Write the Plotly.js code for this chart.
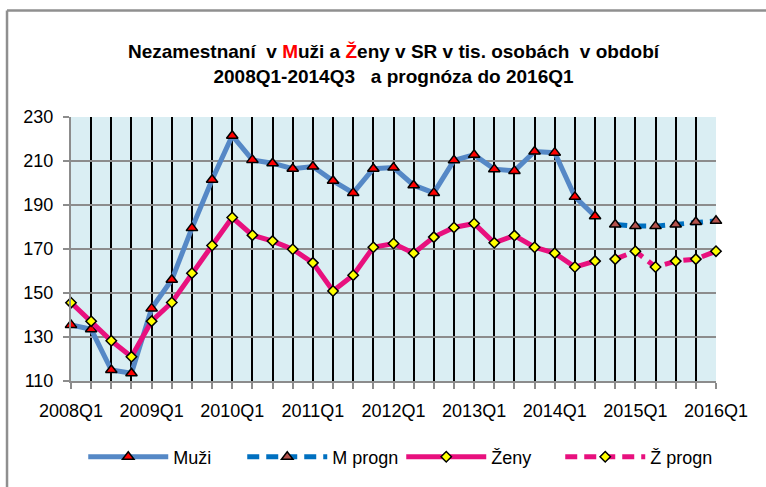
<!DOCTYPE html>
<html>
<head>
<meta charset="utf-8">
<script src="https://cdn.plot.ly/plotly-3.0.1.min.js"></script>
<style>
html,body{margin:0;padding:0;background:#fff;}
#chart{width:766px;height:487px;}
</style>
</head>
<body>
<div id="chart"></div>
<script>
var quarters = ["2008Q1","2008Q2","2008Q3","2008Q4","2009Q1","2009Q2","2009Q3","2009Q4",
  "2010Q1","2010Q2","2010Q3","2010Q4","2011Q1","2011Q2","2011Q3","2011Q4",
  "2012Q1","2012Q2","2012Q3","2012Q4","2013Q1","2013Q2","2013Q3","2013Q4",
  "2014Q1","2014Q2","2014Q3","2014Q4","2015Q1","2015Q2","2015Q3","2015Q4","2016Q1"];
var tickLabels = ["2008Q1","","","","2009Q1","","","","2010Q1","","","","2011Q1","","","",
  "2012Q1","","","","2013Q1","","","","2014Q1","","","","2015Q1","","","","2016Q1"];
var muziX = quarters.slice(0, 27);
var muzi = [135.5,133.5,115,113.5,143,156,179.5,201.5,221.5,210.5,209,206.5,207.5,201,195.5,206.5,
  207,199,195.5,210.3,212.8,206.3,205.5,214.3,213.8,193.7,184.9];
var prognX = quarters.slice(27);
var mProgn = [181.1,180.4,180.4,181.1,182.3,182.8];
var zeny = [145.6,137.2,128.3,121.0,137.2,145.7,159.0,171.6,184.3,176.3,173.6,169.9,163.7,150.9,158.1,170.8,
  172.5,168.1,175.4,179.8,181.6,172.8,176.1,170.8,168.1,161.8,164.5];
var zProgn = [165.4,169,161.8,164.5,165.4,169];
var yTicks = [110,130,150,170,190,210,230];

var FONT = '"Liberation Sans", Arial, sans-serif';

var traces = [
  {x: muziX, y: muzi, name: 'Muži', type: 'scatter', mode: 'lines+markers', cliponaxis: false,
   line: {color: '#5588C6', width: 5},
   marker: {symbol: 'triangle-up', size: 10, color: '#FF0000', line: {color: '#000', width: 1.5}}},
  {x: prognX, y: mProgn, name: 'M progn', type: 'scatter', mode: 'lines+markers', cliponaxis: false,
   line: {color: '#0070C0', width: 5, dash: '12px,7px'},
   marker: {symbol: 'triangle-up', size: 10, color: '#B5534D', line: {color: '#000', width: 1.5}}},
  {x: muziX, y: zeny, name: 'Ženy', type: 'scatter', mode: 'lines+markers', cliponaxis: false,
   line: {color: '#E8107E', width: 5},
   marker: {symbol: 'diamond', size: 8, color: '#FFFF00', line: {color: '#000', width: 1.5}}},
  {x: prognX, y: zProgn, name: 'Ž progn', type: 'scatter', mode: 'lines+markers', cliponaxis: false,
   line: {color: '#E8107E', width: 5, dash: '12px,7px'},
   marker: {symbol: 'diamond', size: 8, color: '#FFFF00', line: {color: '#000', width: 1.5}}}
];

var layout = {
  width: 766, height: 487,
  margin: {l: 71, r: 50, t: 117, b: 106},
  paper_bgcolor: '#FFFFFF',
  plot_bgcolor: '#DAEEF3',
  font: {family: FONT, size: 18, color: '#000'},
  showlegend: true,
  title: {
    text: '<b>Nezamestnaní  v <span style="color:#FF0000">M</span>uži a <span style="color:#FF0000">Ž</span>eny v SR v tis. osobách  v období<br>2008Q1-2014Q3   a prognóza do 2016Q1</b>',
    font: {family: FONT, size: 19, color: '#000'},
    x: 0.5, xref: 'paper', xanchor: 'center',
    y: 0.88, yref: 'container', yanchor: 'middle'
  },
  xaxis: {
    type: 'category', categoryorder: 'array', categoryarray: quarters,
    range: [0, 32], fixedrange: true,
    tickmode: 'array', tickvals: quarters, ticktext: tickLabels,
    ticks: 'outside', ticklen: 6, tickwidth: 2, tickcolor: '#8C8C8C',
    showgrid: true, gridcolor: '#000000', gridwidth: 2,
    showline: true, linecolor: '#8C8C8C', linewidth: 2,
    tickfont: {family: FONT, size: 18}, ticklabelstandoff: 6,
    zeroline: false
  },
  yaxis: {
    range: [110, 230], fixedrange: true,
    tickmode: 'array', tickvals: yTicks,
    ticks: 'outside', ticklen: 6, tickwidth: 2, tickcolor: '#8C8C8C',
    showgrid: true, gridcolor: '#8C8C8C', gridwidth: 2,
    showline: true, linecolor: '#8C8C8C', linewidth: 2,
    tickfont: {family: FONT, size: 18}, ticklabelstandoff: 6,
    zeroline: false
  },
  legend: {
    orientation: 'h', x: 0.512, xanchor: 'center', y: -0.288, yanchor: 'middle',
    font: {family: FONT, size: 18}, itemwidth: 80, entrywidth: 64, entrywidthmode: 'pixels',
    bgcolor: 'rgba(0,0,0,0)'
  },
  shapes: [
    {type: 'line', xref: 'paper', yref: 'paper', x0: -0.0992, x1: 1.1, y0: 1.4037, y1: 1.4037,
     line: {color: '#8F8F8F', width: 2.5}},
    {type: 'line', xref: 'paper', yref: 'paper', x0: -0.0992, x1: -0.0992, y0: 1.4037, y1: -0.45,
     line: {color: '#8F8F8F', width: 2.5}}
  ]
};

Plotly.newPlot('chart', traces, layout, {displayModeBar: false, staticPlot: true});
</script>
</body>
</html>
